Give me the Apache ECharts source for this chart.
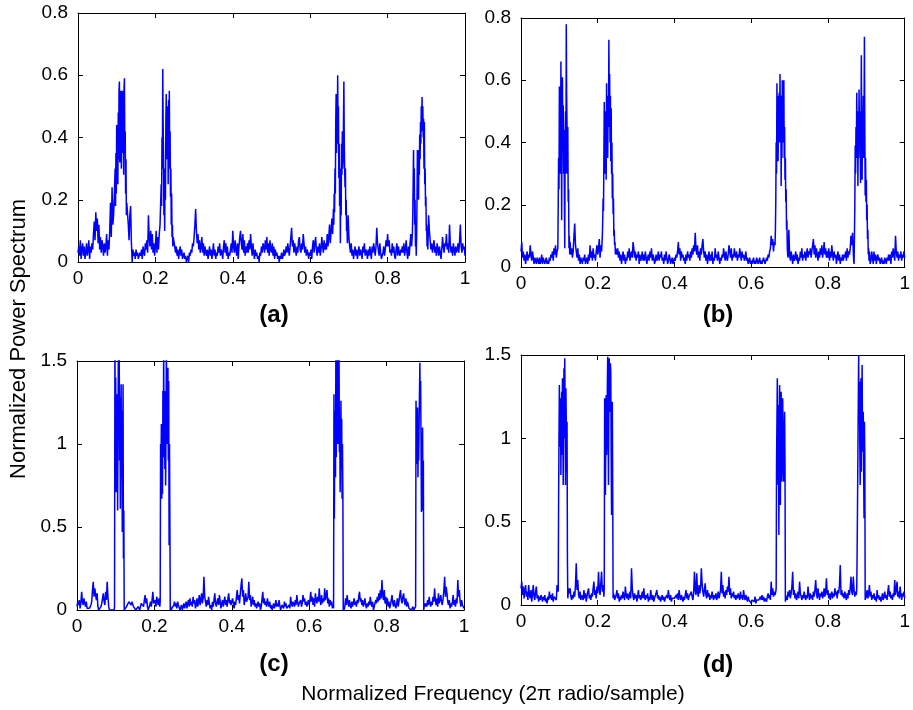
<!DOCTYPE html>
<html>
<head>
<meta charset="utf-8">
<script src="https://cdn.jsdelivr.net/npm/echarts@6/dist/echarts.min.js"></script>
<style>
  html, body { margin: 0; padding: 0; background: #fff; }
  #chart { width: 913px; height: 710px; }
</style>
</head>
<body>
<div id="chart"></div>
<script>
// Coarse frequency grid shared by all four spectra (0 .. 1, step 0.002)
const FREQ_STEP = 0.002;
const FREQ_COUNT = 501;
// Fine grid used inside the four signal bands of each spectrum
const FINE_STEP = 0.001;

// Panel (a) power spectrum, one row = 0.04 of normalized frequency
const powerA = [
  0.03,0.05,0.02,0.07,0.01,0.04,0.06,0.02,0.05,0.01,0.03,0.06,0.02,0.04,0.07,0.01,0.05,0.03,0.06,0.04,
  0.09,0.13,0.07,0.16,0.10,0.14,0.06,0.12,0.04,0.08,0.03,0.07,0.05,0.02,0.06,0.03,0.05,0.09,0.02,0.07,
  0.04,0.10,0.19,0.08,0.24,0.12,0.15,0.22,0.30,0.18,0.44,0.25,0.33,0.48,0.58,0.32,0.51,0.38,0.55,0.35,
  0.59,0.42,0.28,0.33,0.19,0.12,0.07,0.15,0.18,0.06,0.00,0.04,0.02,0.03,0.01,0.04,0.02,0.03,0.01,0.02,
  0.03,0.02,0.04,0.01,0.05,0.03,0.02,0.06,0.04,0.07,0.03,0.15,0.08,0.05,0.10,0.04,0.09,0.03,0.06,0.02,
  0.05,0.10,0.03,0.08,0.04,0.09,0.12,0.06,0.25,0.40,0.62,0.34,0.22,0.10,0.30,0.54,0.33,0.48,0.25,0.44,
  0.55,0.30,0.21,0.12,0.08,0.05,0.03,0.05,0.02,0.04,0.01,0.03,0.05,0.02,0.04,0.01,0.02,0.03,0.01,0.02,
  0.00,0.01,0.02,0.00,0.03,0.02,0.04,0.03,0.06,0.05,0.08,0.12,0.17,0.10,0.06,0.09,0.04,0.07,0.03,0.05,
  0.08,0.03,0.06,0.02,0.05,0.03,0.02,0.04,0.01,0.03,0.05,0.02,0.04,0.01,0.03,0.06,0.02,0.04,0.01,0.03,
  0.02,0.05,0.03,0.06,0.02,0.04,0.03,0.01,0.05,0.07,0.03,0.06,0.02,0.05,0.01,0.03,0.02,0.04,0.06,0.03,
  0.10,0.05,0.03,0.07,0.04,0.02,0.06,0.01,0.05,0.08,0.10,0.06,0.04,0.09,0.03,0.07,0.02,0.05,0.03,0.06,
  0.03,0.07,0.04,0.09,0.05,0.02,0.06,0.03,0.01,0.04,0.02,0.03,0.01,0.02,0.00,0.03,0.02,0.05,0.03,0.06,
  0.05,0.03,0.07,0.04,0.08,0.03,0.06,0.02,0.07,0.04,0.03,0.06,0.02,0.05,0.01,0.04,0.02,0.03,0.01,0.02,
  0.00,0.02,0.01,0.03,0.01,0.02,0.04,0.02,0.03,0.05,0.03,0.06,0.04,0.02,0.05,0.08,0.11,0.05,0.07,0.03,
  0.06,0.04,0.02,0.05,0.03,0.07,0.08,0.04,0.03,0.06,0.04,0.09,0.06,0.03,0.05,0.02,0.04,0.03,0.01,0.03,
  0.02,0.04,0.01,0.05,0.07,0.03,0.06,0.08,0.04,0.02,0.05,0.03,0.06,0.02,0.04,0.08,0.05,0.03,0.07,0.04,
  0.06,0.04,0.09,0.05,0.08,0.12,0.06,0.10,0.14,0.09,0.17,0.22,0.26,0.40,0.54,0.35,0.60,0.42,0.27,0.15,
  0.06,0.25,0.38,0.30,0.45,0.58,0.40,0.24,0.30,0.15,0.08,0.05,0.03,0.06,0.02,0.04,0.01,0.03,0.05,0.02,
  0.04,0.01,0.03,0.05,0.02,0.04,0.03,0.01,0.05,0.03,0.06,0.02,0.04,0.03,0.01,0.04,0.02,0.05,0.03,0.01,
  0.05,0.03,0.06,0.04,0.02,0.05,0.11,0.06,0.04,0.02,0.06,0.03,0.01,0.02,0.03,0.05,0.02,0.04,0.07,0.05,
  0.09,0.05,0.07,0.03,0.04,0.02,0.06,0.03,0.05,0.02,0.01,0.04,0.06,0.02,0.05,0.03,0.02,0.04,0.03,0.05,
  0.03,0.06,0.02,0.04,0.07,0.03,0.01,0.05,0.02,0.06,0.09,0.05,0.12,0.20,0.36,0.15,0.10,0.25,0.02,0.08,
  0.36,0.22,0.20,0.35,0.41,0.30,0.50,0.53,0.46,0.49,0.45,0.28,0.21,0.15,0.10,0.07,0.04,0.06,0.03,0.05,
  0.07,0.03,0.05,0.02,0.06,0.04,0.02,0.05,0.03,0.01,0.04,0.08,0.05,0.03,0.06,0.05,0.09,0.04,0.06,0.03,
  0.12,0.06,0.03,0.05,0.02,0.06,0.04,0.02,0.05,0.03,0.04,0.06,0.03,0.07,0.12,0.05,0.03,0.06,0.04,0.05,
  0.02
];
// Panel (a) signal bands on the fine grid
const bandStartsA = [0.096, 0.214, 0.660, 0.864];
const bandA1 = [0.30,0.18,0.35,0.22,0.44,0.28,0.38,0.25,0.48,0.33,0.55,0.58,0.32,0.50,0.40,0.55,0.30,0.51,0.38,0.55,
                0.35,0.48,0.28,0.56,0.59,0.35,0.42,0.22,0.33,0.15,0.19];
const bandA2 = [0.12,0.25,0.18,0.40,0.30,0.62,0.45,0.34,0.15,0.22,0.10,0.30,0.20,0.45,0.54,0.33,0.50,0.35,0.48,0.25,
                0.52,0.44,0.55,0.30,0.42,0.21,0.30,0.12,0.22,0.08,0.12,0.05,0.08];
const bandA3 = [0.17,0.12,0.22,0.16,0.30,0.22,0.45,0.54,0.35,0.48,0.38,0.60,0.42,0.50,0.27,0.38,0.18,0.30,0.06,0.25,
                0.15,0.38,0.28,0.42,0.30,0.33,0.45,0.58,0.40,0.30,0.24,0.30,0.15,0.20,0.10,0.12,0.06];
const bandA4 = [0.09,0.15,0.25,0.36,0.20,0.30,0.12,0.20,0.05,0.10,0.02,0.08,0.20,0.36,0.22,0.30,0.20,0.36,0.28,0.41,
                0.33,0.45,0.38,0.50,0.42,0.53,0.45,0.50,0.40,0.46,0.30,0.45,0.25,0.30,0.18,0.21,0.10,0.12,0.05,0.08,
                0.04];

// Panel (b)
const powerB = [
  0.05,0.08,0.03,0.05,0.02,0.04,0.01,0.03,0.05,0.02,0.04,0.03,0.07,0.04,0.02,0.05,0.03,0.01,0.03,0.02,
  0.01,0.03,0.02,0.01,0.03,0.01,0.02,0.04,0.01,0.03,0.02,0.01,0.02,0.03,0.01,0.02,0.01,0.03,0.02,0.04,
  0.03,0.05,0.02,0.06,0.04,0.07,0.03,0.05,0.06,0.35,0.58,0.45,0.66,0.15,0.40,0.61,0.44,0.25,0.06,0.50,
  0.78,0.45,0.21,0.06,0.08,0.04,0.06,0.03,0.05,0.10,0.14,0.07,0.05,0.03,0.06,0.02,0.04,0.01,0.03,0.02,
  0.01,0.03,0.02,0.04,0.01,0.02,0.03,0.01,0.04,0.02,0.07,0.03,0.05,0.02,0.06,0.03,0.04,0.02,0.05,0.07,
  0.04,0.06,0.09,0.03,0.07,0.05,0.10,0.08,0.22,0.53,0.36,0.48,0.30,0.59,0.35,0.45,0.73,0.62,0.34,0.51,
  0.22,0.17,0.07,0.05,0.08,0.04,0.06,0.03,0.05,0.02,0.04,0.01,0.03,0.05,0.02,0.04,0.01,0.03,0.02,0.05,
  0.03,0.06,0.02,0.04,0.05,0.03,0.08,0.06,0.03,0.05,0.02,0.04,0.03,0.05,0.01,0.04,0.02,0.03,0.05,0.02,
  0.04,0.02,0.05,0.03,0.01,0.03,0.04,0.02,0.05,0.03,0.06,0.02,0.04,0.03,0.01,0.02,0.04,0.02,0.03,0.05,
  0.02,0.04,0.03,0.05,0.02,0.03,0.01,0.04,0.02,0.05,0.03,0.01,0.02,0.04,0.03,0.01,0.02,0.03,0.01,0.02,
  0.03,0.02,0.04,0.03,0.05,0.08,0.04,0.06,0.02,0.05,0.03,0.04,0.02,0.03,0.01,0.04,0.02,0.05,0.03,0.04,
  0.02,0.05,0.03,0.06,0.04,0.07,0.05,0.11,0.06,0.04,0.07,0.03,0.05,0.02,0.06,0.04,0.07,0.09,0.05,0.03,
  0.05,0.02,0.04,0.01,0.03,0.05,0.02,0.04,0.02,0.05,0.01,0.03,0.02,0.06,0.03,0.04,0.02,0.05,0.03,0.01,
  0.03,0.02,0.04,0.03,0.06,0.04,0.02,0.05,0.03,0.02,0.04,0.07,0.05,0.03,0.06,0.02,0.04,0.03,0.06,0.04,
  0.03,0.05,0.02,0.04,0.03,0.06,0.04,0.02,0.05,0.03,0.04,0.02,0.03,0.05,0.02,0.03,0.01,0.02,0.03,0.01,
  0.02,0.01,0.02,0.03,0.01,0.02,0.01,0.03,0.02,0.01,0.02,0.03,0.01,0.02,0.01,0.02,0.03,0.02,0.01,0.02,
  0.03,0.02,0.04,0.03,0.05,0.06,0.10,0.07,0.09,0.05,0.08,0.06,0.21,0.40,0.59,0.45,0.34,0.56,0.62,0.40,
  0.26,0.60,0.40,0.55,0.60,0.45,0.28,0.35,0.21,0.12,0.04,0.02,0.05,0.03,0.01,0.04,0.02,0.03,0.05,0.02,
  0.04,0.01,0.03,0.02,0.05,0.03,0.06,0.02,0.04,0.03,0.05,0.02,0.04,0.06,0.03,0.05,0.04,0.06,0.03,0.05,
  0.05,0.09,0.04,0.07,0.03,0.06,0.04,0.02,0.05,0.03,0.06,0.04,0.07,0.03,0.05,0.08,0.04,0.06,0.03,0.05,
  0.03,0.06,0.02,0.05,0.03,0.07,0.04,0.02,0.05,0.03,0.04,0.01,0.03,0.05,0.02,0.04,0.01,0.03,0.02,0.04,
  0.02,0.04,0.03,0.05,0.02,0.06,0.03,0.05,0.04,0.06,0.10,0.07,0.11,0.05,0.01,0.20,0.39,0.30,0.56,0.40,
  0.26,0.57,0.45,0.40,0.27,0.68,0.28,0.50,0.40,0.55,0.74,0.23,0.21,0.15,0.09,0.04,0.02,0.05,0.03,0.01,
  0.05,0.02,0.04,0.01,0.03,0.04,0.02,0.03,0.01,0.02,0.03,0.01,0.02,0.01,0.03,0.02,0.01,0.03,0.02,0.04,
  0.02,0.04,0.01,0.05,0.03,0.06,0.04,0.02,0.10,0.05,0.03,0.05,0.02,0.04,0.03,0.05,0.02,0.04,0.03,0.05,
  0.03
];
const bandStartsB = [0.096, 0.212, 0.662, 0.866];
const bandB1 = [0.06,0.20,0.35,0.25,0.58,0.40,0.55,0.30,0.66,0.45,0.15,0.50,0.61,0.40,0.52,0.30,0.44,0.25,0.06,0.40,
                0.50,0.30,0.78,0.55,0.45,0.30,0.45,0.21,0.25,0.06,0.10,0.04,0.08];
const bandB2 = [0.10,0.15,0.22,0.18,0.35,0.53,0.30,0.45,0.36,0.50,0.28,0.59,0.40,0.55,0.35,0.50,0.45,0.73,0.50,0.62,
                0.40,0.55,0.34,0.51,0.30,0.40,0.22,0.30,0.17,0.22,0.10,0.12,0.07,0.08,0.04,0.06,0.05];
const bandB3 = [0.07,0.12,0.21,0.40,0.30,0.59,0.45,0.55,0.34,0.50,0.40,0.56,0.45,0.62,0.40,0.55,0.26,0.45,0.35,0.60,
                0.40,0.55,0.45,0.60,0.35,0.45,0.28,0.35,0.21,0.25,0.12,0.15,0.06,0.04,0.03];
const bandB4 = [0.05,0.02,0.01,0.10,0.20,0.39,0.30,0.45,0.35,0.56,0.40,0.50,0.26,0.45,0.35,0.57,0.45,0.50,0.40,0.27,
                0.45,0.68,0.40,0.28,0.50,0.40,0.55,0.35,0.48,0.74,0.45,0.23,0.35,0.21,0.28,0.15,0.20,0.09,0.12,0.04,
                0.06,0.02,0.05,0.03,0.01];

// Panel (c)
const powerC = [
  0.02,0.05,0.03,0.06,0.01,0.04,0.11,0.05,0.03,0.07,0.04,0.02,0.05,0.01,0.02,0.00,0.01,0.00,0.03,0.05,
  0.12,0.17,0.08,0.13,0.14,0.06,0.10,0.02,0.00,0.01,0.00,0.02,0.04,0.07,0.10,0.05,0.03,0.11,0.06,0.17,
  0.08,0.02,0.00,0.01,0.00,0.00,0.01,0.00,0.02,0.00,1.62,0.71,1.24,0.60,1.65,1.28,0.61,1.36,0.47,1.36,
  0.31,0.00,0.01,0.00,0.02,0.01,0.03,0.05,0.04,0.05,0.03,0.05,0.04,0.02,0.03,0.01,0.00,0.01,0.00,0.02,
  0.01,0.00,0.02,0.04,0.03,0.05,0.02,0.06,0.09,0.04,0.07,0.02,0.00,0.01,0.03,0.05,0.02,0.06,0.11,0.04,
  0.03,0.06,0.02,0.08,0.05,0.03,0.07,0.02,1.00,1.12,0.67,1.32,1.60,0.92,1.32,0.75,1.60,1.12,1.46,0.39,
  0.55,0.00,0.02,0.00,0.01,0.03,0.05,0.02,0.04,0.01,0.05,0.03,0.02,0.00,0.01,0.03,0.00,0.02,0.04,0.01,
  0.03,0.05,0.01,0.04,0.06,0.02,0.07,0.03,0.05,0.02,0.08,0.04,0.06,0.01,0.03,0.07,0.02,0.05,0.09,0.03,
  0.06,0.10,0.04,0.07,0.20,0.08,0.05,0.02,0.06,0.03,0.08,0.04,0.01,0.03,0.00,0.05,0.02,0.06,0.10,0.04,
  0.02,0.05,0.07,0.03,0.09,0.05,0.01,0.04,0.06,0.02,0.05,0.08,0.03,0.06,0.02,0.07,0.10,0.04,0.06,0.03,
  0.03,0.07,0.04,0.01,0.05,0.03,0.08,0.12,0.06,0.09,0.04,0.10,0.15,0.19,0.08,0.12,0.03,0.06,0.10,0.05,
  0.04,0.08,0.17,0.06,0.09,0.02,0.05,0.08,0.03,0.06,0.02,0.04,0.01,0.03,0.05,0.02,0.04,0.00,0.02,0.01,
  0.11,0.04,0.07,0.03,0.05,0.02,0.07,0.04,0.02,0.05,0.01,0.03,0.00,0.02,0.04,0.01,0.03,0.06,0.02,0.04,
  0.02,0.06,0.03,0.00,0.01,0.03,0.02,0.01,0.05,0.02,0.04,0.01,0.00,0.02,0.03,0.01,0.08,0.04,0.02,0.05,
  0.04,0.02,0.06,0.03,0.09,0.05,0.02,0.04,0.03,0.06,0.02,0.04,0.09,0.05,0.07,0.03,0.05,0.02,0.04,0.06,
  0.03,0.06,0.11,0.05,0.08,0.03,0.07,0.02,0.10,0.06,0.04,0.08,0.05,0.13,0.06,0.03,0.09,0.04,0.07,0.05,
  0.13,0.06,0.09,0.12,0.04,0.07,0.02,0.06,0.03,0.05,0.01,0.03,1.30,0.55,1.20,1.62,0.92,1.60,1.12,0.71,
  1.26,0.67,1.15,0.70,0.00,0.04,0.02,0.07,0.03,0.09,0.05,0.02,0.06,0.03,0.01,0.05,0.02,0.04,0.07,0.03,
  0.05,0.02,0.06,0.04,0.08,0.11,0.05,0.07,0.03,0.06,0.02,0.04,0.07,0.03,0.01,0.04,0.02,0.05,0.03,0.08,
  0.04,0.02,0.05,0.00,0.02,0.03,0.06,0.04,0.08,0.05,0.10,0.06,0.12,0.07,0.18,0.09,0.06,0.12,0.04,0.08,
  0.03,0.07,0.02,0.05,0.01,0.03,0.06,0.09,0.04,0.02,0.06,0.03,0.01,0.04,0.07,0.02,0.05,0.09,0.12,0.06,
  0.04,0.08,0.10,0.05,0.03,0.07,0.02,0.05,0.03,0.01,0.00,0.01,0.00,0.00,0.02,0.00,0.01,0.00,1.26,0.88,
  1.22,0.80,1.12,1.49,1.38,0.59,0.92,0.60,0.00,0.02,0.01,0.04,0.02,0.06,0.03,0.08,0.04,0.02,0.05,0.03,
  0.08,0.05,0.13,0.06,0.03,0.07,0.02,0.10,0.04,0.06,0.09,0.05,0.03,0.07,0.12,0.20,0.08,0.14,0.10,0.05,
  0.03,0.06,0.01,0.04,0.02,0.05,0.09,0.03,0.06,0.02,0.07,0.04,0.18,0.08,0.12,0.05,0.02,0.06,0.03,0.02,
  0.01
];
const bandStartsC = [0.096, 0.214, 0.662, 0.872];
const bandC1 = [0.00,0.02,1.62,0.95,1.40,0.71,1.24,0.85,1.30,0.60,1.10,1.65,1.28,1.62,0.90,1.28,0.61,1.05,1.36,0.80,
                1.20,0.47,0.95,1.36,0.31,0.60,0.00,0.01,0.00];
const bandC2 = [0.02,0.05,1.00,0.80,1.12,0.67,1.00,0.70,1.32,0.95,1.60,0.92,1.25,0.85,1.32,0.75,1.10,1.62,1.00,1.30,
                1.12,1.46,0.90,1.38,0.39,1.00,0.55,0.00,0.02,0.00,0.01];
const bandC3 = [0.03,0.01,1.30,0.55,1.00,1.20,0.80,1.62,0.92,1.30,1.10,1.60,1.00,1.25,1.12,1.62,0.95,1.10,0.71,1.00,
                1.26,0.85,1.15,0.67,1.00,0.70,0.00,0.02,0.00];
const bandC4 = [0.00,0.01,0.00,0.02,1.26,1.05,0.88,1.15,1.22,0.80,1.10,0.90,1.12,1.30,1.49,1.20,1.38,1.00,0.59,1.00,
                0.92,1.10,0.60,0.90,0.00,0.02,0.01,0.04,0.02];

// Panel (d)
const powerD = [
  0.10,0.14,0.06,0.11,0.04,0.09,0.12,0.05,0.08,0.03,0.12,0.06,0.04,0.09,0.02,0.07,0.12,0.05,0.03,0.08,
  0.11,0.04,0.06,0.02,0.05,0.03,0.06,0.04,0.02,0.05,0.03,0.06,0.02,0.04,0.01,0.05,0.03,0.08,0.04,0.06,
  0.03,0.07,0.02,0.05,0.04,0.06,0.03,0.12,0.08,0.62,1.32,1.10,1.24,0.78,1.28,1.36,0.72,1.42,1.48,0.72,
  1.10,0.28,0.04,0.07,0.10,0.05,0.03,0.06,0.04,0.08,0.05,0.12,0.25,0.09,0.15,0.06,0.04,0.08,0.03,0.06,
  0.05,0.03,0.09,0.04,0.07,0.02,0.05,0.08,0.10,0.04,0.06,0.03,0.07,0.05,0.10,0.14,0.06,0.09,0.04,0.11,
  0.07,0.20,0.10,0.06,0.13,0.20,0.08,0.12,0.05,1.24,0.66,1.00,1.26,1.00,1.49,0.72,1.48,1.16,1.40,0.54,
  1.22,0.04,0.07,0.03,0.06,0.09,0.04,0.07,0.02,0.05,0.03,0.06,0.04,0.08,0.05,0.03,0.11,0.06,0.04,0.07,
  0.03,0.05,0.08,0.04,0.22,0.10,0.05,0.03,0.07,0.04,0.06,0.02,0.05,0.09,0.04,0.06,0.03,0.05,0.08,0.04,
  0.10,0.05,0.03,0.06,0.04,0.07,0.02,0.05,0.03,0.09,0.05,0.03,0.06,0.02,0.04,0.03,0.07,0.09,0.04,0.06,
  0.03,0.05,0.02,0.04,0.06,0.03,0.05,0.02,0.04,0.03,0.06,0.04,0.09,0.05,0.03,0.06,0.02,0.04,0.03,0.05,
  0.04,0.03,0.06,0.04,0.07,0.03,0.09,0.05,0.03,0.06,0.04,0.02,0.05,0.03,0.06,0.09,0.04,0.07,0.03,0.05,
  0.06,0.04,0.08,0.05,0.03,0.07,0.20,0.09,0.06,0.19,0.08,0.05,0.12,0.07,0.10,0.22,0.13,0.08,0.05,0.09,
  0.13,0.06,0.04,0.09,0.05,0.07,0.03,0.06,0.04,0.08,0.05,0.03,0.06,0.04,0.07,0.03,0.05,0.08,0.04,0.06,
  0.09,0.20,0.07,0.12,0.05,0.08,0.04,0.09,0.06,0.11,0.08,0.17,0.06,0.10,0.04,0.07,0.05,0.08,0.04,0.06,
  0.03,0.06,0.04,0.07,0.05,0.03,0.08,0.04,0.06,0.03,0.09,0.05,0.03,0.06,0.04,0.02,0.05,0.03,0.04,0.02,
  0.01,0.03,0.02,0.04,0.02,0.05,0.01,0.03,0.02,0.04,0.03,0.02,0.05,0.03,0.06,0.03,0.05,0.02,0.04,0.03,
  0.02,0.05,0.07,0.04,0.06,0.03,0.14,0.06,0.10,0.05,0.08,0.06,0.10,0.86,1.36,0.72,0.42,1.32,0.60,1.28,
  0.74,1.24,1.02,0.74,1.16,0.02,0.06,0.03,0.08,0.05,0.09,0.04,0.07,0.11,0.20,0.06,0.09,0.04,0.07,0.03,
  0.05,0.08,0.04,0.14,0.07,0.05,0.03,0.06,0.04,0.08,0.05,0.03,0.06,0.04,0.11,0.06,0.03,0.07,0.04,0.06,
  0.03,0.08,0.05,0.09,0.15,0.07,0.04,0.10,0.06,0.03,0.07,0.05,0.08,0.04,0.06,0.10,0.05,0.08,0.16,0.06,
  0.09,0.04,0.07,0.03,0.06,0.08,0.04,0.07,0.05,0.10,0.06,0.08,0.04,0.09,0.07,0.12,0.24,0.06,0.09,0.05,
  0.07,0.04,0.08,0.05,0.03,0.07,0.04,0.09,0.06,0.10,0.17,0.08,0.06,0.17,0.09,0.05,0.08,0.06,0.32,0.90,
  1.50,1.34,0.72,1.36,0.80,1.44,0.52,1.16,1.10,0.03,0.06,0.09,0.04,0.07,0.12,0.05,0.08,0.03,0.06,0.04,
  0.07,0.03,0.05,0.02,0.09,0.04,0.06,0.03,0.05,0.02,0.04,0.07,0.03,0.05,0.08,0.04,0.06,0.03,0.08,0.12,
  0.05,0.08,0.04,0.06,0.03,0.07,0.05,0.15,0.06,0.09,0.14,0.05,0.08,0.04,0.11,0.06,0.03,0.07,0.05,0.08,
  0.04
];
const bandStartsD = [0.096, 0.216, 0.664, 0.874];
const bandD1 = [0.12,0.08,0.62,1.00,1.32,0.95,1.10,1.24,0.78,1.15,1.28,0.90,1.36,1.10,0.72,1.20,1.42,1.00,1.48,1.20,
                0.72,1.30,1.10,0.80,1.10,0.28,0.04,0.07,0.10];
const bandD2 = [0.05,0.10,1.24,0.80,0.66,1.00,1.26,0.90,1.00,1.30,1.49,1.10,0.72,1.20,1.48,1.30,1.16,1.45,1.40,0.90,
                0.54,1.00,1.22,0.70,0.04,0.07,0.04,0.06,0.03];
const bandD3 = [0.08,0.10,0.86,1.10,1.36,1.00,0.72,1.20,0.42,1.00,1.32,0.90,0.60,1.10,1.28,0.95,0.74,1.05,1.24,1.02,
                0.80,0.74,1.00,1.16,0.85,0.02,0.06,0.03,0.05];
const bandD4 = [0.06,0.10,0.32,0.60,0.90,1.20,1.50,1.10,1.34,0.95,0.72,1.10,1.36,0.80,1.20,1.44,1.00,0.92,1.16,0.80,
                0.52,1.10,0.90,0.03,0.06,0.04,0.06];

// Axis ticks
const xTicks = [0, 0.2, 0.4, 0.6, 0.8, 1];
const yTicksTop = [0, 0.2, 0.4, 0.6, 0.8];
const yTicksBottom = [0, 0.5, 1, 1.5];

const panelLabels = ['(a)', '(b)', '(c)', '(d)'];
const xTitle = 'Normalized Frequency (2\u03c0 radio/sample)';
const yTitle = 'Normalized Power Spectrum';

const FONT = '"Liberation Sans", Arial, sans-serif';
const BLUE = '#0000ff';

const panels = [
  { power: powerA, starts: bandStartsA, bands: [bandA1, bandA2, bandA3, bandA4], yTicks: yTicksTop,
    box: { left: 78,  top: 13,  width: 387, height: 249 } },
  { power: powerB, starts: bandStartsB, bands: [bandB1, bandB2, bandB3, bandB4], yTicks: yTicksTop,
    box: { left: 521, top: 18,  width: 387, height: 249 } },
  { power: powerC, starts: bandStartsC, bands: [bandC1, bandC2, bandC3, bandC4], yTicks: yTicksBottom,
    box: { left: 77,  top: 361, width: 387, height: 249 } },
  { power: powerD, starts: bandStartsD, bands: [bandD1, bandD2, bandD3, bandD4], yTicks: yTicksBottom,
    box: { left: 521, top: 355, width: 387, height: 250 } }
];

// Merge the coarse spectrum with the finely sampled signal bands
function spectrumPoints(power, starts, bands) {
  const eps = 1e-9;
  const spans = starts.map((s, k) => [s, s + (bands[k].length - 1) * FINE_STEP]);
  const pts = [];
  power.forEach((v, i) => {
    const f = +(i * FREQ_STEP).toFixed(4);
    if (!spans.some(([a, b]) => f >= a - eps && f <= b + eps)) pts.push([f, v]);
  });
  starts.forEach((s, k) => {
    bands[k].forEach((v, j) => pts.push([+(s + j * FINE_STEP).toFixed(4), v]));
  });
  pts.sort((p, q) => p[0] - q[0]);
  return pts;
}

function frameLine() { return { show: true, onZero: false, lineStyle: { color: '#000', width: 1 } }; }
function frameTick() { return { show: true, inside: true, length: 5, lineStyle: { color: '#000', width: 1 } }; }
function tickLabel(margin) {
  return { show: true, margin: margin, color: '#000', fontSize: 19, fontFamily: FONT };
}

const grid = [], xAxis = [], yAxis = [], series = [];

panels.forEach((p, k) => {
  grid.push(Object.assign({ containLabel: false }, p.box));
  const yMax = p.yTicks[p.yTicks.length - 1];
  const yStep = p.yTicks[1] - p.yTicks[0];
  const xRange = { min: xTicks[0], max: xTicks[xTicks.length - 1], interval: xTicks[1] - xTicks[0] };
  const yRange = { min: p.yTicks[0], max: yMax, interval: yStep };
  // box frame: bottom/top x axes, left/right y axes
  xAxis.push(Object.assign({ gridIndex: k, type: 'value', position: 'bottom',
    axisLine: frameLine(), axisTick: frameTick(), splitLine: { show: false },
    axisLabel: tickLabel(7) }, xRange));
  xAxis.push(Object.assign({ gridIndex: k, type: 'value', position: 'top',
    axisLine: frameLine(), axisTick: frameTick(), splitLine: { show: false },
    axisLabel: { show: false } }, xRange));
  yAxis.push(Object.assign({ gridIndex: k, type: 'value', position: 'left',
    axisLine: frameLine(), axisTick: frameTick(), splitLine: { show: false },
    axisLabel: tickLabel(10) }, yRange));
  yAxis.push(Object.assign({ gridIndex: k, type: 'value', position: 'right',
    axisLine: frameLine(), axisTick: frameTick(), splitLine: { show: false },
    axisLabel: { show: false } }, yRange));
  series.push({
    type: 'line',
    xAxisIndex: 2 * k, yAxisIndex: 2 * k,
    data: spectrumPoints(p.power, p.starts, p.bands),
    showSymbol: false, symbol: 'none', sampling: null, clip: true, smooth: false,
    lineStyle: { color: BLUE, width: 1.5 },
    itemStyle: { color: BLUE },
    silent: true, z: 1
  });
});

const labelPos = [[274, 315], [718, 315], [274, 664], [718, 665]];
const graphic = panelLabels.map((t, k) => ({
  type: 'text', x: labelPos[k][0], y: labelPos[k][1],
  style: { text: t, fontFamily: FONT, fontSize: 24, fontWeight: 'bold', fill: '#000',
           textAlign: 'center', textVerticalAlign: 'middle' }
}));
graphic.push({
  type: 'text', x: 493, y: 694,
  style: { text: xTitle, fontFamily: FONT, fontSize: 21, fill: '#000',
           textAlign: 'center', textVerticalAlign: 'middle' }
});
graphic.push({
  type: 'text', x: 19, y: 339, rotation: Math.PI / 2,
  style: { text: yTitle, fontFamily: FONT, fontSize: 22, fill: '#000',
           textAlign: 'center', textVerticalAlign: 'middle' }
});

const chart = echarts.init(document.getElementById('chart'), null, { renderer: 'canvas' });
chart.setOption({
  animation: false,
  backgroundColor: '#fff',
  grid, xAxis, yAxis, series, graphic
});
</script>
</body>
</html>
